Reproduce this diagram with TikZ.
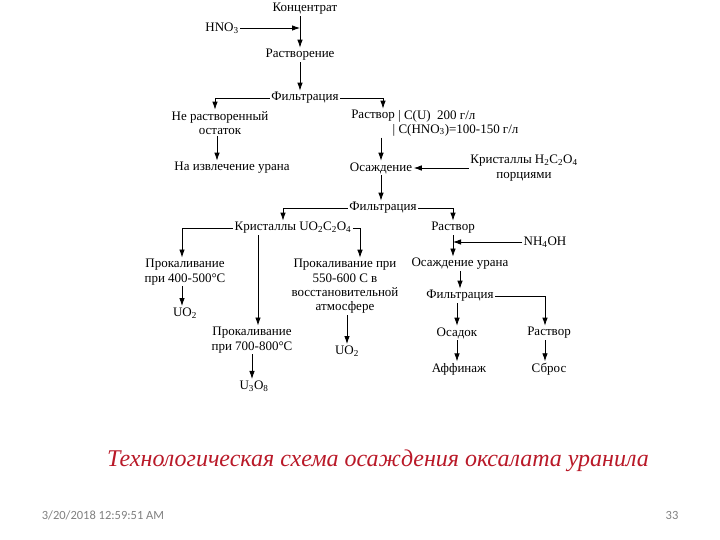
\documentclass[tikz,border=0pt]{standalone}
\usepackage{fontspec}
\setmainfont{Liberation Serif}
\newfontfamily\footfont{Carlito}
\usetikzlibrary{arrows.meta}
\definecolor{capred}{RGB}{185,25,40}
\definecolor{footgrey}{RGB}{128,128,128}
\tikzset{
  txt/.style={font=\fontsize{13}{14.3}\selectfont, inner sep=1.5pt, align=center},
  arr/.style={-{Latex[length=8pt,width=5.5pt]}, line width=0.8pt},
  ln/.style={line width=0.8pt}
}
\begin{document}
\begin{tikzpicture}[x=1pt,y=-1pt]
\useasboundingbox (0,0) rectangle (720,540);
% nodes
\node[txt] (konc) at (305,9) {Концентрат};
\node[txt] (hno) at (222,28) {HNO\textsubscript{3}};
\node[txt] (rast) at (300,55) {Растворение};
\node[txt] (f1) at (305,98) {Фильтрация};
\node[txt] (ost) at (220,123) {Не растворенный\\остаток};
\node[txt] (izv) at (232,168) {На извлечение урана};
\node[txt] (r1) at (373,116) {Раствор};
\node[txt, anchor=west] (r1c) at (r1.east) {| C(U)~~200 г/л};
\node[txt, anchor=west] (r1d) at (391,130) {| C(HNO\textsubscript{3})=100-150 г/л};
\node[txt] (os) at (381,168) {Осаждение};
\node[txt] (kr1) at (524,168) {Кристаллы H\textsubscript{2}C\textsubscript{2}O\textsubscript{4}\\порциями};
\node[txt] (f2) at (383,208) {Фильтрация};
\node[txt] (kr2) at (293,228) {Кристаллы UO\textsubscript{2}C\textsubscript{2}O\textsubscript{4}};
\node[txt] (r2) at (453,228) {Раствор};
\node[txt] (nh) at (545,242) {NH\textsubscript{4}OH};
\node[txt] (pr1) at (185,272) {Прокаливание\\при 400-500°С};
\node[txt] (uo2a) at (185,313) {UO\textsubscript{2}};
\node[txt] (pr2) at (345,286.5) {Прокаливание при\\550-600 С в\\восстановительной\\атмосфере};
\node[txt] (uo2b) at (347,351) {UO\textsubscript{2}};
\node[txt] (pr3) at (252,340) {Прокаливание\\при 700-800°С};
\node[txt] (u3o8) at (254,386) {U\textsubscript{3}O\textsubscript{8}};
\node[txt] (osu) at (460,264) {Осаждение урана};
\node[txt] (f3) at (460,296) {Фильтрация};
\node[txt] (osad) at (457,333) {Осадок};
\node[txt] (r3) at (549,333) {Раствор};
\node[txt] (aff) at (459,369) {Аффинаж};
\node[txt] (sbros) at (549,369) {Сброс};
% caption and footer
\node[font=\fontsize{24}{26}\selectfont\itshape, text=capred, inner sep=0pt] (cap) at (378,461) {Технологическая схема осаждения оксалата уранила};
\node[font=\footfont\fontsize{12.5}{14}\selectfont, text=footgrey, inner sep=0pt] (date) at (103,515) {3/20/2018 12:59:51 AM};
\node[font=\footfont\fontsize{12.5}{14}\selectfont, text=footgrey, inner sep=0pt] (page) at (672,515) {33};
% connectors
\draw[arr] (rast.north |- konc.south) -- (rast.north);
\draw[arr] (hno.east) -- (hno.east -| rast.north);
\draw[arr] (rast.south) -- (rast.south |- f1.north);
\draw[arr] (f1.west) -| ([xshift=-5]ost.north);
\draw[arr] (f1.east) -| ([xshift=10]r1.north);
\draw[arr] ([xshift=-3]ost.south) -- ([xshift=-3]ost.south |- izv.north);
\draw[arr] (os.north |- r1d.south) -- (os.north);
\draw[arr] (kr1.west) -- (os.east);
\draw[arr] (os.south) -- (os.south |- f2.north);
\draw[arr] (f2.west) -| ([xshift=-10]kr2.north);
\draw[arr] (f2.east) -| (r2.north);
\draw[arr] (kr2.west) -| ([xshift=-3]pr1.north);
\draw[arr] (kr2.east) -| ([xshift=15]pr2.north);
\draw[arr] ([xshift=6]pr3.north |- kr2.south) -- ([xshift=6]pr3.north);
\draw[arr] ([xshift=-3]pr1.south) -- ([xshift=-3]pr1.south |- uo2a.north);
\draw[arr] (uo2b.north |- pr2.south) -- (uo2b.north);
\draw[arr] (pr3.south) -- (pr3.south |- u3o8.north);
\draw[arr] (r2.south) -- (r2.south |- osu.north);
\draw[arr] (nh.west) -- (nh.west -| r2.south);
\draw[arr] (osu.south) -- (f3.north);
\draw[arr] (osad.north |- f3.south) -- (osad.north);
\draw[arr] (f3.east) -| ([xshift=-4]r3.north);
\draw[arr] (osad.south) -- (osad.south |- aff.north);
\draw[arr] ([xshift=-4]r3.south) -- ([xshift=-4]r3.south |- sbros.north);
\end{tikzpicture}
\end{document}
